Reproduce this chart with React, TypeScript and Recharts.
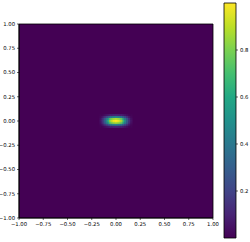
import React from "react";
import { ScatterChart, Scatter, XAxis, YAxis, CartesianGrid, ReferenceArea, BarChart, Bar } from "recharts";

// axis ticks
const axisTicks = [-1, -0.75, -0.5, -0.25, 0, 0.25, 0.5, 0.75, 1];
const colorbarTicks = [0.2, 0.4, 0.6, 0.8];
const colorbarRange = [{ name: "cb", low: 0, high: 1 }];

// heatmap cells around the peak (cell step 0.02); outside is 0
const cellXs = [-0.16, -0.14, -0.12, -0.1, -0.08, -0.06, -0.04, -0.02, 0, 0.02, 0.04, 0.06, 0.08, 0.1, 0.12, 0.14, 0.16];
const cellYs = [0.06, 0.04, 0.02, 0, -0.02, -0.04, -0.06];
const cellValues = [
  [0.01, 0.01, 0.03, 0.05, 0.07, 0.09, 0.09, 0.1, 0.1, 0.1, 0.09, 0.09, 0.07, 0.05, 0.03, 0.01, 0.01],
  [0.02, 0.06, 0.13, 0.2, 0.29, 0.38, 0.42, 0.44, 0.45, 0.44, 0.42, 0.38, 0.29, 0.2, 0.13, 0.06, 0.02],
  [0.04, 0.12, 0.25, 0.4, 0.57, 0.75, 0.82, 0.86, 0.88, 0.86, 0.82, 0.75, 0.57, 0.4, 0.25, 0.12, 0.04],
  [0.05, 0.14, 0.28, 0.45, 0.65, 0.85, 0.93, 0.98, 1.0, 0.98, 0.93, 0.85, 0.65, 0.45, 0.28, 0.14, 0.05],
  [0.04, 0.12, 0.25, 0.4, 0.57, 0.75, 0.82, 0.86, 0.88, 0.86, 0.82, 0.75, 0.57, 0.4, 0.25, 0.12, 0.04],
  [0.02, 0.06, 0.13, 0.2, 0.29, 0.38, 0.42, 0.44, 0.45, 0.44, 0.42, 0.38, 0.29, 0.2, 0.13, 0.06, 0.02],
  [0.01, 0.01, 0.03, 0.05, 0.07, 0.09, 0.09, 0.1, 0.1, 0.1, 0.09, 0.09, 0.07, 0.05, 0.03, 0.01, 0.01],
];

const cells = cellYs.flatMap((y, r) => cellXs.map((x, c) => ({ x, y, v: cellValues[r][c] })));

// viridis colormap stops
const viridis = ["#440154", "#482475", "#414487", "#355f8d", "#2a788e", "#21918c", "#22a884", "#44bf70", "#7ad151", "#bddf26", "#fde725"];

function hexToRgb(h: string) {
  return [parseInt(h.slice(1, 3), 16), parseInt(h.slice(3, 5), 16), parseInt(h.slice(5, 7), 16)];
}
function cmap(v: number) {
  const t = Math.max(0, Math.min(1, v)) * (viridis.length - 1);
  const i = Math.min(Math.floor(t), viridis.length - 2);
  const f = t - i;
  const a = hexToRgb(viridis[i]);
  const b = hexToRgb(viridis[i + 1]);
  const c = a.map((av, k) => Math.round(av + (b[k] - av) * f));
  return `rgb(${c[0]},${c[1]},${c[2]})`;
}

const fmt = (v: number) => {
  const s = Math.abs(v).toFixed(2);
  return v < 0 ? "\u2212" + s : s;
};

const tickStyle = { fontSize: 5.3, fill: "#000", fontFamily: "DejaVu Sans" };
const CELL = 2.1;

const CellShape = (props: any) => {
  const { cx, cy, payload } = props;
  return <rect x={cx - CELL / 2} y={cy - CELL / 2} width={CELL} height={CELL} fill={cmap(payload.v)} />;
};

export default function App() {
  return (
    <div style={{ position: "absolute", left: 0, top: 0, width: 250, height: 242, background: "#fff" }}>
      <div style={{ position: "absolute", left: 0, top: 0 }}>
        <ScatterChart width={250} height={242} margin={{ top: 24, right: 37, bottom: 0, left: 2 }}>
          <CartesianGrid fill="#440154" horizontal={false} vertical={false} stroke="none" />
          <XAxis
            type="number"
            dataKey="x"
            domain={[-1, 1]}
            ticks={axisTicks}
            tickFormatter={fmt}
            height={24}
            tick={tickStyle}
            tickSize={2}
            tickLine={{ stroke: "#000", strokeWidth: 0.6 }}
            axisLine={{ stroke: "#000", strokeWidth: 0.8 }}
            interval={0}
            allowDataOverflow
          />
          <YAxis
            type="number"
            dataKey="y"
            domain={[-1, 1]}
            ticks={axisTicks}
            tickFormatter={fmt}
            width={17}
            tick={tickStyle}
            tickSize={2}
            tickLine={{ stroke: "#000", strokeWidth: 0.6 }}
            axisLine={{ stroke: "#000", strokeWidth: 0.8 }}
            interval={0}
            allowDataOverflow
          />
          <Scatter data={cells} shape={CellShape} isAnimationActive={false} />
          <ReferenceArea x1={-1} x2={1} y1={-1} y2={1} fill="none" stroke="#000" strokeWidth={0.8} fillOpacity={0} />
        </ScatterChart>
      </div>
      <div style={{ position: "absolute", left: 0, top: 0 }}>
        <BarChart
          width={250}
          height={242}
          margin={{ top: 3, right: 0, bottom: 4, left: 224 }}
          data={colorbarRange}
          barCategoryGap={0}
          barGap={0}
        >
          <defs>
            <linearGradient id="vir" x1="0" y1="1" x2="0" y2="0">
              {viridis.map((c, i) => (
                <stop key={i} offset={i / (viridis.length - 1)} stopColor={c} />
              ))}
            </linearGradient>
          </defs>
          <XAxis dataKey="name" hide />
          <YAxis
            orientation="right"
            type="number"
            domain={[0, 1]}
            ticks={colorbarTicks}
            tickFormatter={(v: number) => v.toFixed(1)}
            width={14}
            tick={tickStyle}
            tickSize={2}
            tickLine={{ stroke: "#000", strokeWidth: 0.6 }}
            axisLine={false}
            interval={0}
          />
          <Bar dataKey="high" fill="url(#vir)" stroke="#000" strokeWidth={0.8} isAnimationActive={false} />
        </BarChart>
      </div>
    </div>
  );
}
